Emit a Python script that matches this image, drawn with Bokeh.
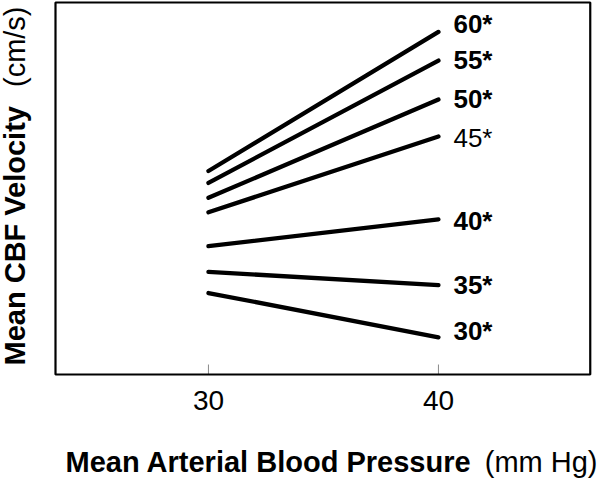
import math
from bokeh.plotting import figure
from bokeh.models import Range1d, Label, ColumnDataSource, BoxAnnotation
from bokeh.embed import file_html
from bokeh.resources import INLINE
from bokeh.core.properties import value

# ---- data ----
pressure = [30, 40]                     # mm Hg, the two measured pressures
tick_values = [30, 40]
tick_labels = ["30", "40"]
series_names = ["30*", "35*", "40*", "45*", "50*", "55*", "60*"]
velocity_at_30 = [21.9, 27.6, 34.5, 43.6, 47.5, 51.5, 54.7]
velocity_at_40 = [10.0, 24.0, 41.7, 64.0, 73.9, 84.4, 92.1]

# axis limits of the drawn plot box
x_min, x_max = 23.35, 46.6
y_min, y_max = 0.0, 100.0

# ---- styles ----
label_styles = ["bold", "bold", "bold", "normal", "bold", "bold", "bold"]
label_dy = [-6, 0, 2, 2, -1, -1, -8]
FONT = "Liberation Sans"
W, H = 600, 478
PX_PER_X = 23.0      # pixels per mm Hg
PX_PER_Y = 3.72      # pixels per velocity unit
FRAME_LEFT_PX, FRAME_BOTTOM_PX = 55, 374

n = len(series_names)
src = ColumnDataSource(dict(
    x0=[pressure[0]] * n, x1=[pressure[1]] * n,
    y0=velocity_at_30, y1=velocity_at_40,
    name=series_names, style=label_styles, dy=label_dy,
))

# the canvas is the whole plotting area; the visible box is drawn explicitly
xs = x_min - FRAME_LEFT_PX / PX_PER_X
ys = y_min - (H - FRAME_BOTTOM_PX) / PX_PER_Y
p = figure(width=W, height=H,
           x_range=Range1d(xs, xs + W / PX_PER_X),
           y_range=Range1d(ys, ys + H / PX_PER_Y),
           output_backend="svg", toolbar_location=None,
           min_border=0)
p.background_fill_color = "white"
p.border_fill_color = "white"
p.outline_line_color = None
p.xgrid.visible = False
p.ygrid.visible = False
p.xaxis.visible = False
p.yaxis.visible = False

# plot box
p.add_layout(BoxAnnotation(left=x_min, right=x_max, bottom=y_min, top=y_max,
                           fill_color=None, fill_alpha=0,
                           line_color="black", line_alpha=1.0, line_width=2.2))

# x ticks (inward) and tick labels
p.ray(x=tick_values, y=[y_min] * len(tick_values), length=10,
      length_units="screen", angle=math.pi / 2,
      line_color="#8a8a8a", line_width=1)
p.text(x=tick_values, y=[y_min] * len(tick_values), text=tick_labels,
       y_offset=16, text_font=value(FONT), text_font_size=value("28px"),
       text_color="black", text_align="center", text_baseline="top")

# data lines
p.segment(x0="x0", y0="y0", x1="x1", y1="y1", source=src,
          line_color="black", line_width=4.3, line_cap="round")

p.text(x="x1", y="y1", text="name", source=src,
       x_offset=15, y_offset="dy",
       text_font=value(FONT), text_font_size=value("26px"),
       text_font_style="style", text_color="black",
       text_align="left", text_baseline="middle")

# axis titles (mixed bold / regular)
common = dict(x_units="screen", y_units="screen", text_font=FONT,
              text_color="black", text_baseline="middle")
p.add_layout(Label(x=65, y=H - 461, text="Mean Arterial Blood Pressure",
                   text_font_size="29px", text_font_style="bold",
                   text_align="left", **common))
p.add_layout(Label(x=597, y=H - 461, text="(mm Hg)",
                   text_font_size="29px", text_font_style="normal",
                   text_align="right", **common))
p.add_layout(Label(x=14, y=H - 365, text="Mean CBF Velocity", angle=math.pi / 2,
                   text_font_size="29px", text_font_style="bold",
                   text_align="left", **common))
p.add_layout(Label(x=14, y=H - 6, text="(cm/s)", angle=math.pi / 2,
                   text_font_size="29px", text_font_style="normal",
                   text_align="right", **common))

open("out.html", "w").write(file_html(p, INLINE))
